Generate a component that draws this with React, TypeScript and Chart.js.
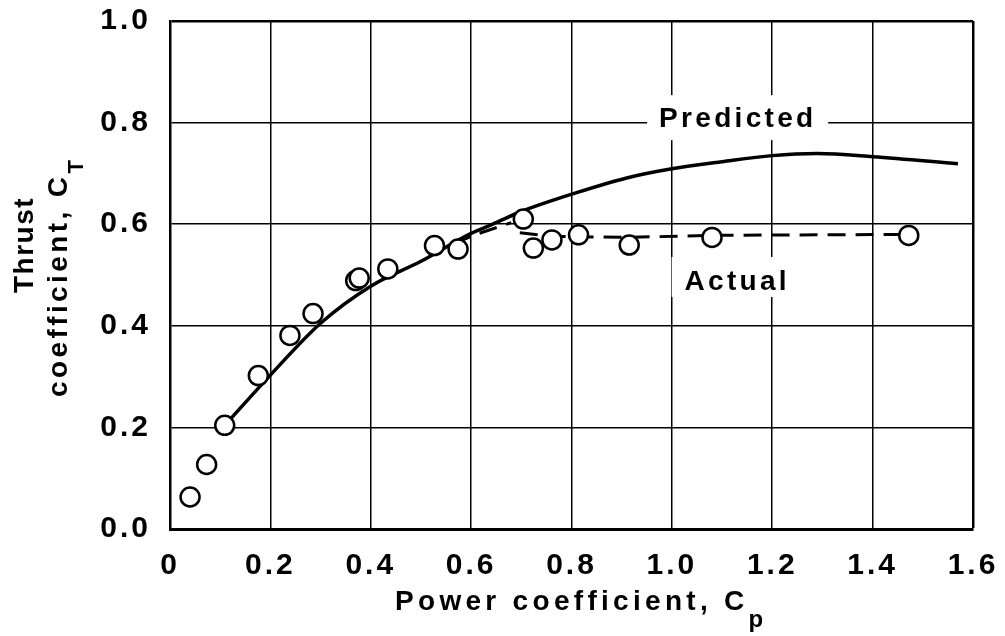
import React, { useEffect, useRef } from "react";
import { Chart, registerables } from "chart.js";

Chart.register(...registerables);

// Measured data points (open circles)
const cpMeasured = [0.04, 0.073, 0.109, 0.176, 0.239, 0.285, 0.37, 0.377, 0.434, 0.527, 0.574, 0.704, 0.724, 0.761, 0.814, 0.915, 1.08, 1.472];
const ctMeasured = [0.063, 0.127, 0.204, 0.302, 0.381, 0.424, 0.489, 0.494, 0.512, 0.558, 0.551, 0.61, 0.553, 0.569, 0.579, 0.559, 0.574, 0.578];

// Predicted curve (solid)
const cpPredicted = [0.11, 0.2, 0.3, 0.4, 0.5, 0.6, 0.643, 0.7, 0.81, 0.91, 1.0, 1.1, 1.2, 1.29, 1.4, 1.57];
const ctPredicted = [0.205, 0.303, 0.405, 0.478, 0.527, 0.582, 0.6, 0.625, 0.662, 0.691, 0.709, 0.723, 0.735, 0.739, 0.733, 0.719];

// Actual curve (dashed), null = break in the line
const cpActual = [0.565, 0.61, 0.68, 0.685, 0.697, 0.76, 0.91, 1.08, 1.47];
const ctActual: (number | null)[] = [0.562, 0.58, 0.603, null, 0.583, 0.576, 0.574, 0.578, 0.58];

// Tick labels
const xTickLabels = ["0", "0.2", "0.4", "0.6", "0.8", "1.0", "1.2", "1.4", "1.6"];
const yTickLabels = ["0.0", "0.2", "0.4", "0.6", "0.8", "1.0"];

const FONT = '"Liberation Sans", Arial, Helvetica, sans-serif';

const textPlugin = {
  id: "textPlugin",
  beforeLayout(chart: any) {
    chart.ctx.letterSpacing = "3px";
  },
  beforeDraw(chart: any) {
    chart.ctx.letterSpacing = "3px";
  },
  beforeDatasetsDraw(chart: any) {
    const ctx = chart.ctx;
    const xs = chart.scales.x;
    const ys = chart.scales.y;
    const labels = [
      { text: "Predicted", x: 1.128, y: 0.791, box: [-89, -32, 181, 45] },
      { text: "Actual", x: 1.127, y: 0.4705, box: [-64, -33, 127, 40] },
    ];
    for (const l of labels) {
      const cx = xs.getPixelForValue(l.x);
      const by = ys.getPixelForValue(l.y);
      ctx.save();
      ctx.fillStyle = "#ffffff";
      ctx.fillRect(cx + l.box[0], by + l.box[1], l.box[2], l.box[3]);
      ctx.font = `bold 28px ${FONT}`;
      ctx.letterSpacing = "3.3px";
      ctx.fillStyle = "#000000";
      ctx.textAlign = "left";
      ctx.textBaseline = "alphabetic";
      const w = ctx.measureText(l.text).width - 3.3;
      ctx.fillText(l.text, cx - w / 2, by);
      ctx.restore();
    }
  },
  afterDraw(chart: any) {
    const ctx = chart.ctx;
    ctx.save();
    ctx.fillStyle = "#000000";
    ctx.textAlign = "left";
    ctx.textBaseline = "alphabetic";
    // X axis title
    ctx.font = `bold 28px ${FONT}`;
    ctx.letterSpacing = "4.3px";
    const xMain = "Power coefficient, C";
    ctx.fillText(xMain, 395, 610);
    const wx = ctx.measureText(xMain).width;
    ctx.font = `bold 24px ${FONT}`;
    ctx.letterSpacing = "0px";
    ctx.fillText("p", 395 + wx, 627);
    ctx.restore();

    // Y axis title (rotated)
    ctx.save();
    ctx.fillStyle = "#000000";
    ctx.textAlign = "left";
    ctx.textBaseline = "alphabetic";
    ctx.translate(33, 293);
    ctx.rotate(-Math.PI / 2);
    ctx.font = `bold 28px ${FONT}`;
    ctx.letterSpacing = "1.5px";
    ctx.fillText("Thrust", 0, 0);
    ctx.restore();

    ctx.save();
    ctx.fillStyle = "#000000";
    ctx.textAlign = "left";
    ctx.textBaseline = "alphabetic";
    ctx.translate(67, 397);
    ctx.rotate(-Math.PI / 2);
    ctx.font = `bold 28px ${FONT}`;
    ctx.letterSpacing = "3.4px";
    const yMain = "coefficient, C";
    ctx.fillText(yMain, 0, 0);
    const wy = ctx.measureText(yMain).width;
    ctx.font = `bold 22px ${FONT}`;
    ctx.letterSpacing = "0px";
    ctx.fillText("T", wy, 16);
    ctx.restore();
  },
};

export default function App() {
  const canvasRef = useRef<HTMLCanvasElement | null>(null);

  useEffect(() => {
    document.body.style.margin = "0";
    const canvas = canvasRef.current;
    if (!canvas) return;

    const measured = cpMeasured.map((x, i) => ({ x, y: ctMeasured[i] }));
    const predicted = cpPredicted.map((x, i) => ({ x, y: ctPredicted[i] }));
    const actual = cpActual.map((x, i) => ({ x, y: ctActual[i] }));

    const chart = new Chart(canvas, {
      type: "scatter",
      data: {
        datasets: [
          {
            label: "Measured",
            data: measured,
            showLine: false,
            pointRadius: 9.5,
            pointBorderWidth: 2.5,
            pointBackgroundColor: "#ffffff",
            pointBorderColor: "#000000",
            order: 0,
          },
          {
            label: "Predicted",
            data: predicted,
            showLine: true,
            borderColor: "#000000",
            borderWidth: 3.5,
            pointRadius: 0,
            cubicInterpolationMode: "monotone",
            order: 1,
          },
          {
            label: "Actual",
            data: actual,
            showLine: true,
            spanGaps: false,
            borderColor: "#000000",
            borderWidth: 3,
            borderDash: [18, 10],
            pointRadius: 0,
            order: 2,
          },
        ],
      },
      options: {
        responsive: false,
        animation: false,
        devicePixelRatio: 1,
        layout: { padding: { left: 0, top: 21, right: 32, bottom: 0 } },
        plugins: {
          legend: { display: false },
          tooltip: { enabled: false },
          title: { display: false },
        },
        scales: {
          x: {
            type: "linear",
            min: 0,
            max: 1.6,
            afterFit: (s: any) => {
              s.height = 107;
              s.paddingLeft = 0;
              s.paddingRight = 0;
              s.paddingTop = 0;
              s.paddingBottom = 0;
            },
            ticks: {
              stepSize: 0.2,
              color: "#000000",
              font: { family: FONT, size: 30, weight: "bold" },
              padding: 19,
              maxRotation: 0,
              autoSkip: false,
              callback: (_v: any, i: number) => xTickLabels[i],
            },
            grid: {
              color: "#000000",
              lineWidth: (c: any) => (c.index === 8 ? 2.5 : 1.5),
              drawTicks: false,
            },
            border: { display: true, color: "#000000", width: 3 },
          },
          y: {
            type: "linear",
            min: 0,
            max: 1.0,
            afterFit: (s: any) => {
              s.width = 170;
              s.paddingLeft = 0;
              s.paddingRight = 0;
              s.paddingTop = 0;
              s.paddingBottom = 0;
            },
            ticks: {
              stepSize: 0.2,
              color: "#000000",
              font: { family: FONT, size: 30, weight: "bold" },
              padding: 19,
              autoSkip: false,
              callback: (_v: any, i: number) => yTickLabels[i],
            },
            grid: {
              color: "#000000",
              lineWidth: (c: any) => (c.index === 5 ? 2.5 : 1.5),
              drawTicks: false,
            },
            border: { display: true, color: "#000000", width: 2.5 },
          },
        },
      },
      plugins: [textPlugin],
    });

    return () => {
      chart.destroy();
    };
  }, []);

  return (
    <div style={{ width: 1005, height: 636, background: "#ffffff" }}>
      <canvas ref={canvasRef} width={1005} height={636} style={{ display: "block" }} />
    </div>
  );
}
